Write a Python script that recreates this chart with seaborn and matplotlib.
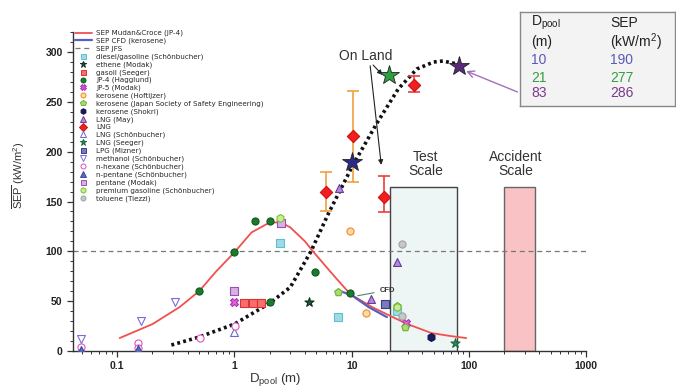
import pandas as pd
import seaborn as sns
import matplotlib.pyplot as plt
from matplotlib.lines import Line2D
from matplotlib.patches import Rectangle

sns.set_theme(style="ticks")
plt.rcParams['font.family'] = ['Liberation Sans', 'DejaVu Sans']
plt.rcParams['mathtext.fontset'] = 'custom'
plt.rcParams['mathtext.rm'] = 'Liberation Sans'
plt.rcParams['mathtext.it'] = 'Liberation Sans:italic'
plt.rcParams['mathtext.bf'] = 'Liberation Sans:bold'

# curves
mudan_x = [0.105, 0.2, 0.34, 0.5, 0.7, 1.0, 1.4, 2.0, 2.5, 3.0, 4.0, 4.6, 7.0, 9.75, 15, 22, 30, 48, 70, 95]
mudan_y = [13, 27, 44, 60, 80, 99, 119, 129, 129, 124, 110, 101, 76, 57, 44, 34.5, 27, 18, 15, 13]
cfd_x = [7.6, 10, 14, 20]
cfd_y = [61, 56, 44, 34]
trend_x = [0.29, 0.5, 1.0, 2.0, 3.0, 4.5, 6.4, 10.3, 16.5, 25, 36, 50, 60, 80]
trend_y = [6, 14, 27, 48, 64, 100, 139, 187, 229, 263, 283, 290, 291, 288]
jfs_level = 100

# measured points
diesel_x, diesel_y = [2.44, 7.6, 24.5], [108, 34, 40]
ethene_x, ethene_y = [4.3], [49]
gasoil_x, gasoil_y = [1.2, 1.45, 1.7], [48, 48, 48]
jp4_x = [0.5, 1.0, 1.5, 2.0, 2.0, 4.9, 9.75]
jp4_y = [60, 99, 130, 130, 49, 79, 58]
jp5_x, jp5_y = [1.0, 29], [49, 28]
ker_hoft_x, ker_hoft_y = [9.6, 13.3], [120, 38]
ker_japan_x, ker_japan_y = [7.6, 24.2, 28.8], [59, 45, 24]
ker_shokri_x, ker_shokri_y = [48], [14]
lng_may_x, lng_may_y = [7.8, 14.7, 24.2], [164, 52, 89]
lng_x = [6.0, 10.3, 18.7, 34.2]
lng_y = [160, 216, 155, 267]
lng_lo = [140, 170, 139, 260]
lng_hi = [180, 261, 176, 276]
lng_schon_x, lng_schon_y = [0.049, 0.15, 1.0], [2, 2, 19]
lng_seeger_x, lng_seeger_y = [76], [8]
lpg_x, lpg_y = [19.3], [47]
methanol_x, methanol_y = [0.049, 0.16, 0.31], [12, 30, 49]
hexane_x, hexane_y = [0.049, 0.15, 0.15, 0.51, 1.02], [4, 8, 3, 13, 25]
npentane_x, npentane_y = [0.049, 0.15, 2.5], [1, 2, 128]
pentane_x, pentane_y = [1.0, 2.5], [60, 128]
premium_x, premium_y = [2.45, 24.5], [133, 44]
toluene_x, toluene_y = [26.7, 26.7], [107, 35]

# large scale tests (table)
table_d = [10, 21, 83]
table_sep = [190, 277, 286]

test_scale = (21.3, 79.6)
accident_scale = (198, 365)
scale_top = 165

names = ["diesel/gasoline", "ethene", "gasoil", "JP-4", "JP-5", "kerosene", "kerosene",
         "kerosene", "LNG", "LNG", "LNG", "LNG", "LPG", "methanol", "n-hexane",
         "n-pentane", "pentane", "premium gasoline", "toluene"]
authors = ["Schönbucher", "Modak", "Seeger", "Hagglund", "Modak", "Hoftijzer",
           "Japan Society of Safety Engineering", "Shokri", "May", "", "Schönbucher",
           "Seeger", "Mizner", "Schönbucher", "Schönbucher", "Schönbucher", "Modak",
           "Schönbucher", "Tiezzi"]
xs = [diesel_x, ethene_x, gasoil_x, jp4_x, jp5_x, ker_hoft_x, ker_japan_x, ker_shokri_x,
      lng_may_x, lng_x, lng_schon_x, lng_seeger_x, lpg_x, methanol_x, hexane_x,
      npentane_x, pentane_x, premium_x, toluene_x]
ys = [diesel_y, ethene_y, gasoil_y, jp4_y, jp5_y, ker_hoft_y, ker_japan_y, ker_shokri_y,
      lng_may_y, lng_y, lng_schon_y, lng_seeger_y, lpg_y, methanol_y, hexane_y,
      npentane_y, pentane_y, premium_y, toluene_y]

# marker, face, edge, size
styles = [("s", "#9fdbe6", "#5cc0d4", 4.5),
          ("*", "#1f5a35", "#10301c", 6),
          ("s", "#f47070", "#e03030", 4.5),
          ("o", "#1c7a2c", "#0f5a1c", 4.5),
          ("X", "#e060e0", "#b030b0", 5),
          ("o", "#ffd9a8", "#f08a20", 4.5),
          ("p", "#a8dc70", "#6cb030", 5),
          ("h", "#1a1a60", "#10104a", 5),
          ("^", "#b58ad8", "#6a3a9a", 5),
          ("D", "#ee2020", "#d01010", 5.5),
          ("^", "white", "#6a6acc", 5),
          ("*", "#2a8a5a", "#1a6a40", 6),
          ("s", "#7a7ac0", "#3a3a8a", 4.5),
          ("v", "white", "#7a6adc", 5),
          ("o", "white", "#e050c0", 4.5),
          ("^", "#5a6ab8", "#3a4a98", 5),
          ("s", "#d8b0e8", "#9a50b0", 4.5),
          ("h", "#c8ec98", "#7cc030", 5),
          ("o", "#c8c8c8", "#a0a0a0", 4.5)]

rows = []
for i, (name, author) in enumerate(zip(names, authors)):
    for x, y in zip(xs[i], ys[i]):
        rows.append({"series": i, "D": x, "SEP": y})
points = pd.DataFrame(rows)

fig = plt.figure(figsize=(6.76, 3.87), dpi=100)
ax = fig.add_axes([0.108, 0.093, 0.759, 0.824])
ax.set_xscale("log")

ax.add_patch(Rectangle((test_scale[0], 0), test_scale[1] - test_scale[0], scale_top,
                       facecolor="#eef5f5", edgecolor="#444444", lw=1, zorder=1))
ax.add_patch(Rectangle((accident_scale[0], 0), accident_scale[1] - accident_scale[0], scale_top,
                       facecolor="#f9c3c6", edgecolor="#666666", lw=1, zorder=1))

ax.axhline(jfs_level, color="#777777", ls=(0, (4, 3)), lw=0.9, zorder=2)
sns.lineplot(x=mudan_x, y=mudan_y, ax=ax, color="#f05050", lw=1.3, sort=False, zorder=3)
sns.lineplot(x=cfd_x, y=cfd_y, ax=ax, color="#5560c0", lw=1.6, sort=False, zorder=3)
sns.lineplot(x=trend_x, y=trend_y, ax=ax, color="#111111", lw=2.6, ls=(0, (0.8, 0.9)),
             sort=False, zorder=3)

ebar_colors = ["#f0a040", "#f0a040", "#e84040", "#e84040"]
for x, y, lo, hi, c in zip(lng_x, lng_y, lng_lo, lng_hi, ebar_colors):
    ax.errorbar([x], [y], yerr=[[y - lo], [hi - y]], fmt="none", ecolor=c,
                elinewidth=1.2, capsize=4, capthick=1.2, zorder=4)

for i in range(len(names)):
    m, fc, ec, s = styles[i]
    sub = points[points["series"] == i]
    sns.scatterplot(data=sub, x="D", y="SEP", ax=ax, marker=m, s=s ** 2 * 1.3,
                    color=fc, edgecolor=ec, linewidth=0.8, zorder=5, legend=False)

star_colors = ["#2a2a88", "#2aa040", "#5a2a7a"]
for d, sep, c in zip(table_d, table_sep, star_colors):
    ax.plot(d, sep, marker="*", ms=15, color=c, mec="#222222", mew=0.6, zorder=6)

# annotations
ax.text(13.1, 296, "On Land", ha="center", va="center", fontsize=10, color="#333333")
ax.annotate("", xy=(19, 275), xytext=(14.7, 289),
            arrowprops=dict(arrowstyle="-|>", color="#222222", lw=0.8, mutation_scale=7))
ax.annotate("", xy=(18.0, 184), xytext=(14.3, 289),
            arrowprops=dict(arrowstyle="-|>", color="#222222", lw=0.8, mutation_scale=7))
ax.text(42.8, 188, "Test\nScale", ha="center", va="center", fontsize=10,
        color="#333333", linespacing=1.0)
ax.text(252, 188, "Accident\nScale", ha="center", va="center", fontsize=10,
        color="#333333", linespacing=1.0)
ax.annotate("CFD", xy=(10.7, 55), xytext=(17.5, 61), fontsize=5.5, fontweight="bold",
            color="#333333", va="center",
            arrowprops=dict(arrowstyle="-", color="#4a8a6a", lw=0.8))

# table box
tbl = fig.add_axes([520 / 676, 1 - 106 / 387, 155 / 676, 94 / 387])
tbl.set_xlim(0, 155)
tbl.set_ylim(106, 12)
tbl.set_xticks([])
tbl.set_yticks([])
tbl.set_facecolor("#f3f3f3")
for sp in tbl.spines.values():
    sp.set_color("#888888")
    sp.set_linewidth(1)
tbl.text(11, 23, "D$_{\\mathrm{pool}}$", fontsize=10, va="center", color="#222222")
tbl.text(11, 42, "(m)", fontsize=10, va="center", color="#222222")
tbl.text(90, 23, "SEP", fontsize=10, va="center", color="#222222")
tbl.text(90, 42, "(kW/m$^2$)", fontsize=10, va="center", color="#222222")
for j, (d, sep, c) in enumerate(zip(table_d, table_sep, star_colors)):
    yy = [60, 78, 93][j]
    col = ["#5a5ab8", "#30a040", "#7a3a90"][j]
    tbl.text(11, yy, str(d), fontsize=10, va="center", color=col)
    tbl.text(90, yy, str(sep), fontsize=10, va="center", color=col)
ax.annotate("", xy=(90, 282), xytext=(520 / 676, 1 - 93 / 387), textcoords="figure fraction",
            arrowprops=dict(arrowstyle="->", color="#a070c0", lw=1.0))

# axes styling
ax.set_xlim(0.042, 1000)
ax.set_ylim(0, 320)
ax.set_xticks([0.1, 1, 10, 100, 1000])
ax.set_xticklabels(["0.1", "1", "10", "100", "1000"])
ax.set_yticks(range(0, 301, 50))
ax.set_yticks(range(0, 321, 10), minor=True)
sns.despine(ax=ax)
for sp in ["left", "bottom"]:
    ax.spines[sp].set_color("#333333")
    ax.spines[sp].set_linewidth(1)
ax.tick_params(which="major", length=4, width=0.9, color="#333333", labelsize=7.5,
               labelcolor="#222222")
ax.tick_params(which="minor", length=2.5, width=0.7, color="#333333")
for lab in ax.get_xticklabels() + ax.get_yticklabels():
    lab.set_fontweight("bold")
ax.set_xlabel("D$_{\\mathrm{pool}}$ (m)", fontsize=9.5, color="#333333")
ax.xaxis.set_label_coords(0.394, -0.062)
ax.set_ylabel("$\\overline{\\mathrm{SEP}}$ (kW/m$^2$)", fontsize=8, color="#333333")
ax.yaxis.set_label_coords(-0.09, 0.55)

# legend
handles = [Line2D([], [], color="#f05050", lw=1.3),
           Line2D([], [], color="#5560c0", lw=1.6),
           Line2D([], [], color="#777777", lw=0.9, ls=(0, (4, 3)))]
labels = ["SEP Mudan&Croce (JP-4)", "SEP CFD (kerosene)", "SEP JFS"]
for i, (name, author) in enumerate(zip(names, authors)):
    m, fc, ec, s = styles[i]
    handles.append(Line2D([], [], ls="none", marker=m, ms=s * 0.8, mfc=fc, mec=ec, mew=0.7))
    labels.append(name + (" (" + author + ")" if author else ""))
leg = ax.legend(handles, labels, loc="upper left", bbox_to_anchor=(-0.005, 1.02),
                frameon=False, prop={"family": "DejaVu Sans", "size": 5.1},
                labelspacing=0.2, handlelength=2.4, handletextpad=0.6, borderpad=0.1)

fig.savefig("out.png", dpi=100)
